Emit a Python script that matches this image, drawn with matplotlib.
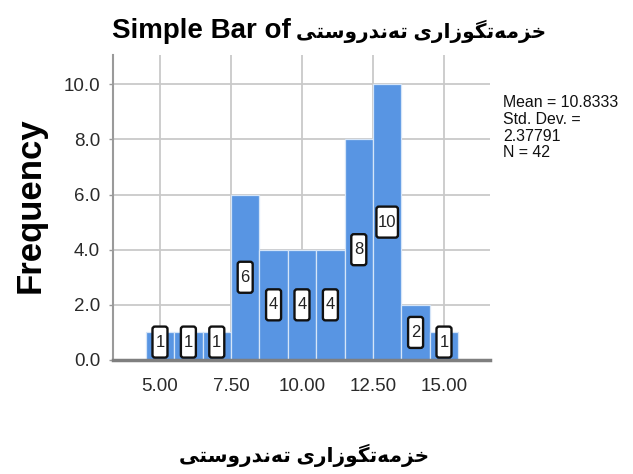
import matplotlib
matplotlib.use("Agg")
import matplotlib.pyplot as plt
from matplotlib.ticker import FormatStrFormatter
from matplotlib.patches import FancyBboxPatch
from matplotlib.transforms import ScaledTranslation

# ---------------- data ----------------
values = [5, 6, 7, 8, 9, 10, 11, 12, 13, 14, 15]
counts = [1, 1, 1, 6, 4, 4, 4, 8, 10, 2, 1]
x_ticks = [5.0, 7.5, 10.0, 12.5, 15.0]
y_ticks = [0, 2, 4, 6, 8, 10]
var_name = "خزمەتگوزاری تەندروستی"
title_prefix = "Simple Bar of"
y_label = "Frequency"
stats_lines = ["Mean = 10.8333", "Std. Dev. =", "2.37791", "N = 42"]

# ------------- minimal Arabic-script shaping (matplotlib has no shaper) -------------
FORMS = {  # isolated, final, initial, medial
    'خ': ('\uFEA5', '\uFEA6', '\uFEA7', '\uFEA8'),
    'ز': ('\uFEAF', '\uFEB0', None, None),
    'م': ('\uFEE1', '\uFEE2', '\uFEE3', '\uFEE4'),
    'ە': ('\u06D5', '\uFEEA', None, None),
    'ت': ('\uFE95', '\uFE96', '\uFE97', '\uFE98'),
    'گ': ('\uFB92', '\uFB93', '\uFB94', '\uFB95'),
    'و': ('\uFEED', '\uFEEE', None, None),
    'ا': ('\uFE8D', '\uFE8E', None, None),
    'ر': ('\uFEAD', '\uFEAE', None, None),
    'ی': ('\uFBFC', '\uFBFD', '\uFBFE', '\uFBFF'),
    'ن': ('\uFEE5', '\uFEE6', '\uFEE7', '\uFEE8'),
    'د': ('\uFEA9', '\uFEAA', None, None),
    'س': ('\uFEB1', '\uFEB2', '\uFEB3', '\uFEB4'),
}


def shape_rtl(text):
    out = []
    for i, c in enumerate(text):
        if c not in FORMS:
            out.append(c)
            continue
        f = FORMS[c]
        prev = text[i - 1] if i > 0 else None
        nxt = text[i + 1] if i + 1 < len(text) else None
        jp = prev in FORMS and FORMS[prev][2] is not None
        jn = nxt in FORMS and f[2] is not None
        if jp and jn:
            g = f[3]
        elif jp:
            g = f[1]
        elif jn:
            g = f[2]
        else:
            g = f[0]
        out.append(g)
    return ''.join(out)[::-1]


var_visual = shape_rtl(var_name)

# ---------------- figure ----------------
W, H = 633, 474
fig = plt.figure(figsize=(W / 100, H / 100), dpi=100)
fig.patch.set_facecolor("white")

ax = fig.add_axes([112.7 / W, 1 - 360 / H, (490 - 112.7) / W, (360 - 55) / H])
ax.set_xlim(3.335, 16.62)
ax.set_ylim(0, 11.06)

sans = ['Liberation Sans', 'DejaVu Sans']

ax.bar(values, counts, width=1.0, color="#5895E3", edgecolor="#D5E5F8",
       linewidth=0.9, zorder=2)

ax.set_axisbelow(True)
ax.set_xticks(x_ticks)
ax.set_yticks(y_ticks)
ax.xaxis.set_major_formatter(FormatStrFormatter('%.2f'))
ax.yaxis.set_major_formatter(FormatStrFormatter('%.1f'))
ax.grid(True, color="#C9C9C9", linewidth=1.3, zorder=0)

for lab in ax.get_xticklabels() + ax.get_yticklabels():
    lab.set_family(sans)
    lab.set_fontsize(13.5)
    lab.set_color("#2a2a2a")

ax.tick_params(axis='x', length=0, pad=13)
ax.tick_params(axis='y', length=3, width=1, color="#999999", pad=6)

for s in ['top', 'right']:
    ax.spines[s].set_visible(False)
ax.spines['left'].set_color("#9a9a9a")
ax.spines['left'].set_linewidth(1.5)
ax.spines['bottom'].set_color("#7f7f7f")
ax.spines['bottom'].set_linewidth(2.5)
ax.spines['bottom'].set_zorder(3)

# bar value labels in tall framed boxes
for v, c in zip(values, counts):
    yc = max(c / 2.0, 0.65)
    txt = str(c)
    bw = 0.085 + 0.065 * len(txt)   # inches
    bh = 0.31
    tr = fig.dpi_scale_trans + ScaledTranslation(v, yc, ax.transData)
    box = FancyBboxPatch((-bw / 2, -bh / 2), bw, bh,
                         boxstyle="round,pad=0,rounding_size=0.025",
                         transform=tr, facecolor="white", edgecolor="#111111",
                         linewidth=1.7, zorder=4, clip_on=False)
    ax.add_patch(box)
    ax.text(v, yc, txt, ha='center', va='center', family=sans,
            fontsize=12, color="#222222", zorder=5)

# title: latin part + arabic part
fig.text(112 / W, 1 - 38 / H, title_prefix, ha='left', va='baseline',
         family=sans, fontweight='bold', fontsize=20)
fig.text(296 / W, 1 - 38 / H, var_visual, ha='left', va='baseline',
         family=sans, fontweight='bold', fontsize=14.5)
fig.text(30 / W, 1 - 205 / H, y_label, rotation=90, ha='center', va='center',
         family=sans, fontweight='bold', fontsize=25)
fig.text(304 / W, 1 - 455 / H, var_visual, ha='center', va='center',
         family=sans, fontweight='bold', fontsize=14.5)
fig.text(503 / W, 1 - 95 / H, "\n".join(stats_lines), ha='left', va='top',
         family=sans, fontsize=11.4, linespacing=1.15, color="#111111")

fig.savefig("out.png", dpi=100, facecolor="white")
